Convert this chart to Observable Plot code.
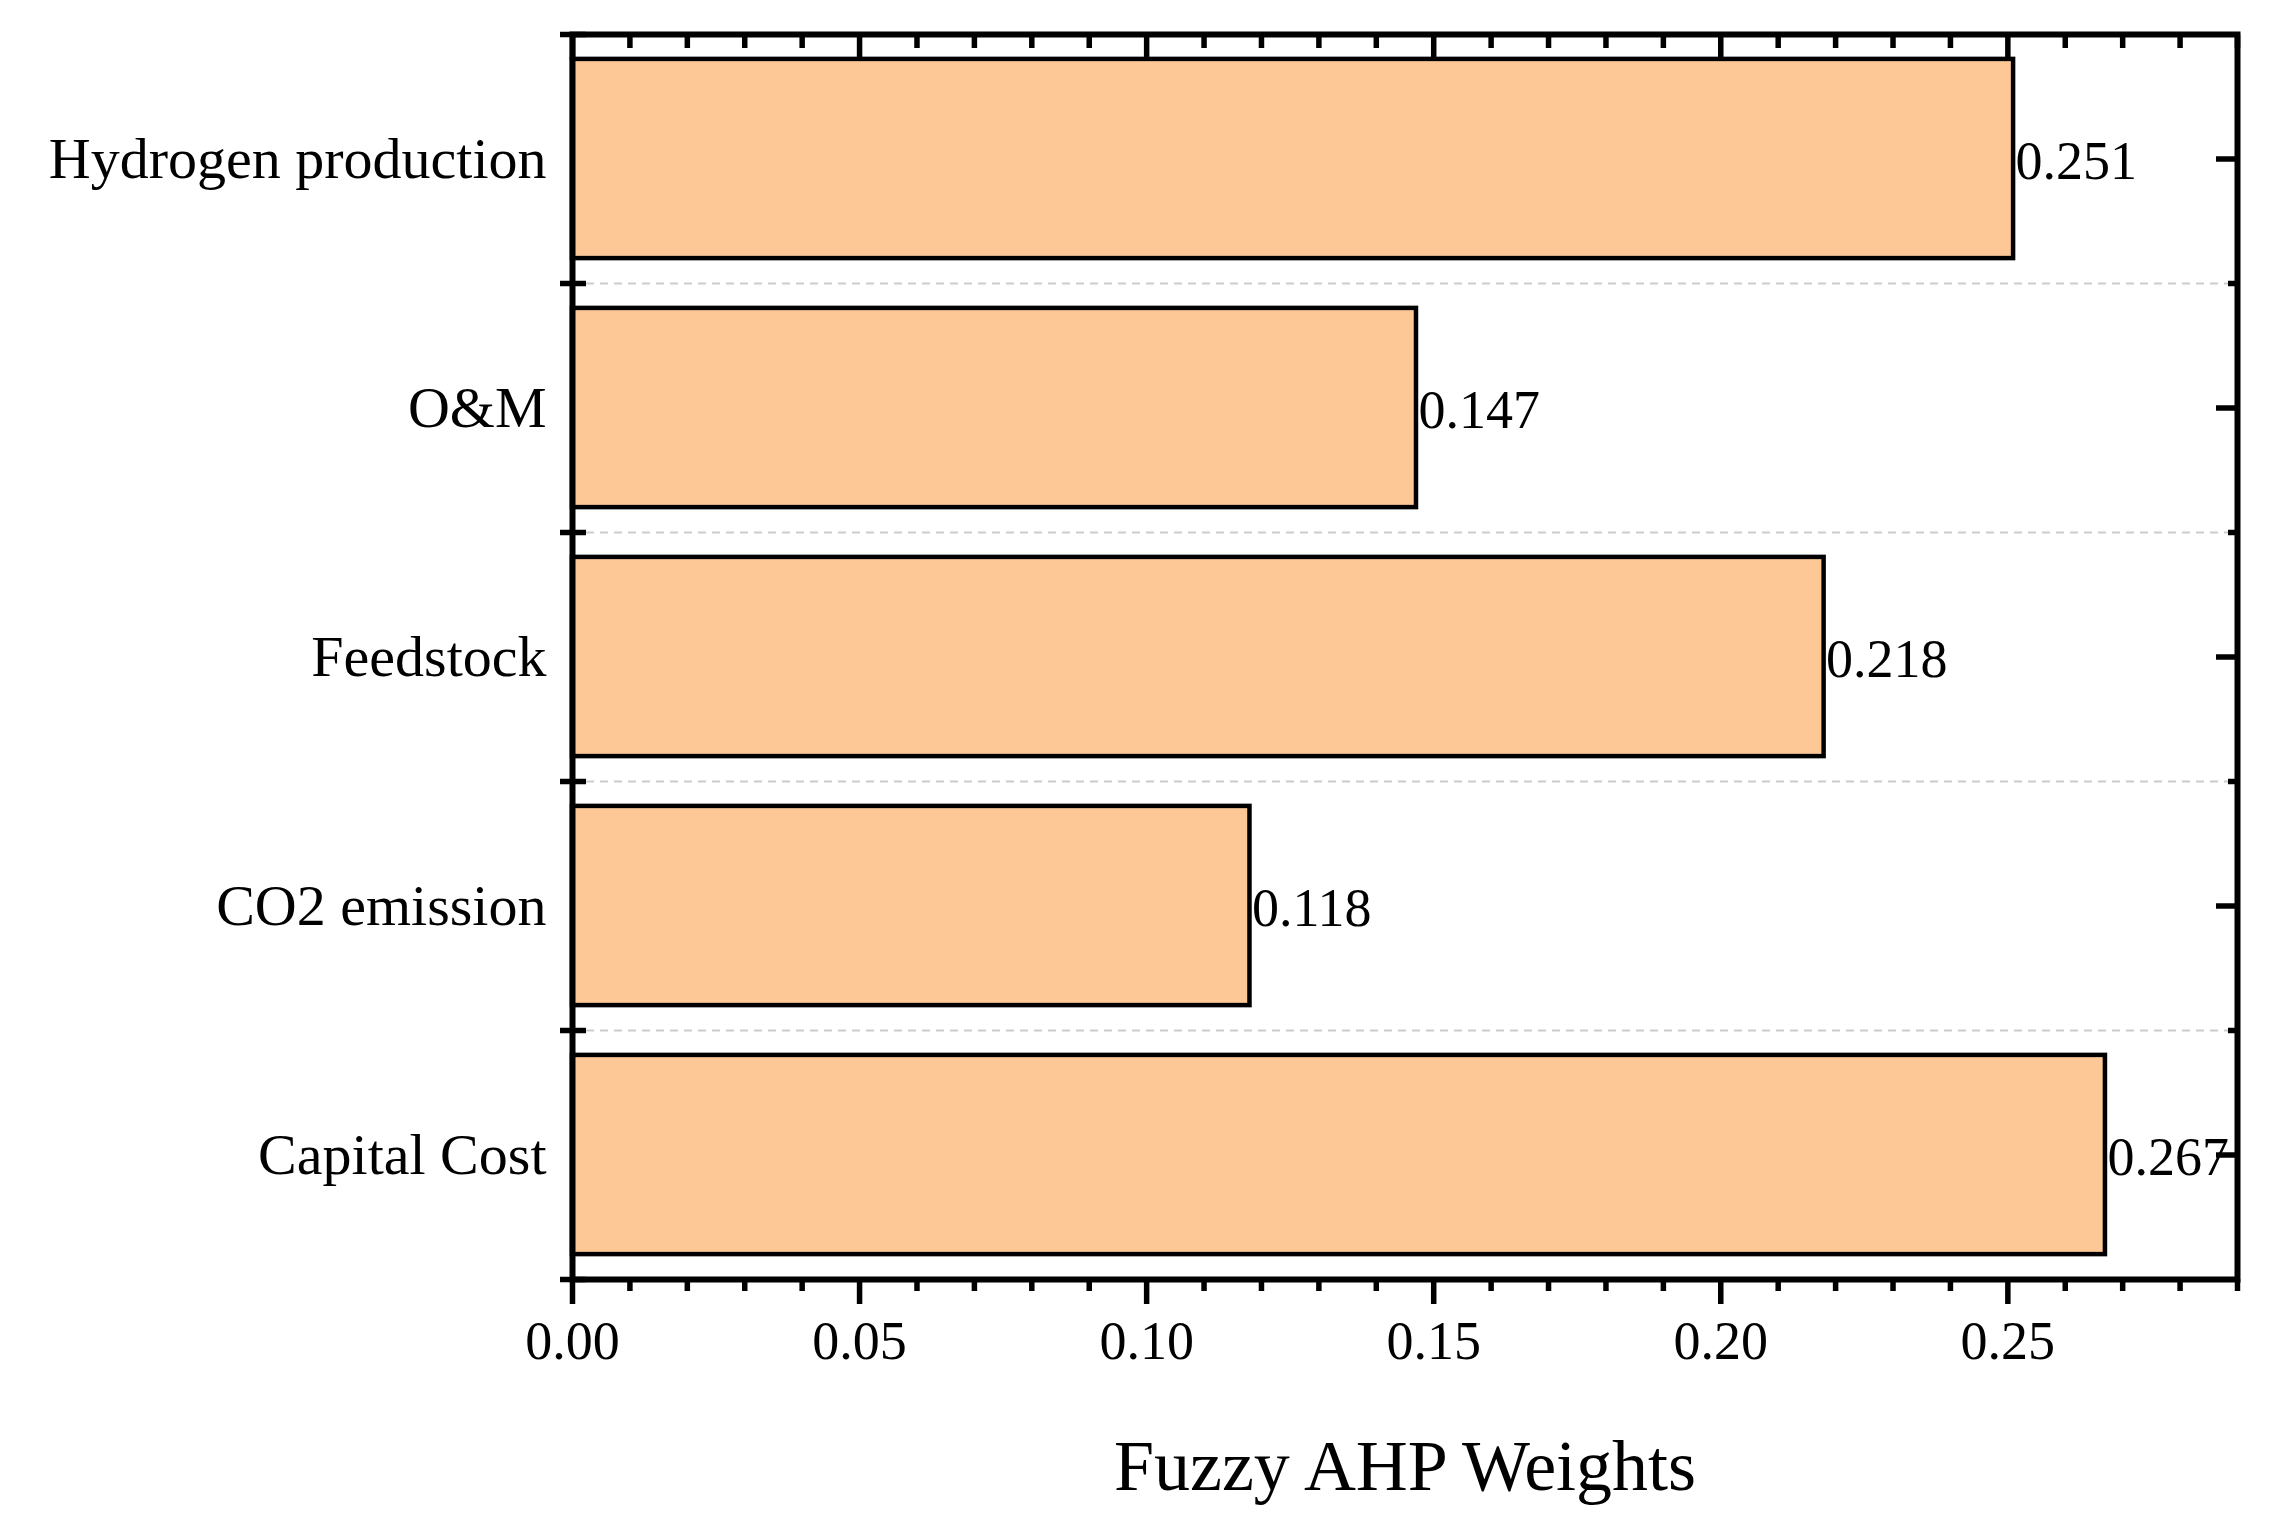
<!DOCTYPE html>
<html>
<head>
<meta charset="utf-8">
<script src="https://cdn.jsdelivr.net/npm/d3@7"></script>
<script src="https://cdn.jsdelivr.net/npm/@observablehq/plot@0.6"></script>
<style>
  html, body { margin: 0; padding: 0; background: #fff; }
  #chart svg { display: block; }
</style>
</head>
<body>
<div id="chart"></div>
<script>
// Categories listed from bottom to top
const categories = ["Capital Cost", "CO2 emission", "Feedstock", "O&M", "Hydrogen production"];
const weights = [0.267, 0.118, 0.218, 0.147, 0.251];
const xMajorTicks = [0, 0.05, 0.10, 0.15, 0.20, 0.25];
const xMinorTicks = [0.01, 0.02, 0.03, 0.04, 0.06, 0.07, 0.08, 0.09, 0.11, 0.12, 0.13, 0.14,
                     0.16, 0.17, 0.18, 0.19, 0.21, 0.22, 0.23, 0.24, 0.26, 0.27, 0.28, 0.29];
const xLabel = "Fuzzy AHP Weights";

const data = categories.map((c, i) => ({category: c, value: weights[i], i}));
const boundaries = d3.range(0, categories.length + 1);
const innerBoundaries = boundaries.slice(1, -1);
const centers = categories.map((c, i) => i + 0.5);

const fontFamily = "'Liberation Serif', serif";
const blank = () => "";

const chart = Plot.plot({
  width: 2270,
  height: 1528,
  marginLeft: 572,
  marginRight: 33,
  marginTop: 34,
  marginBottom: 249,
  style: {fontFamily, background: "#fff", color: "#000"},
  x: {domain: [0, 0.29]},
  y: {domain: [0, categories.length]},
  marks: [
    Plot.ruleY(innerBoundaries, {y: d => d, stroke: "#cccccc", strokeWidth: 2.2, strokeDasharray: "8,6"}),
    Plot.rect(data, {
      x1: () => 0, x2: "value",
      y1: d => d.i + 0.1, y2: d => d.i + 0.9,
      fill: "#fec896", stroke: "#000", strokeWidth: 4.5
    }),
    Plot.text(data, {
      x: "value", y: d => d.i + 0.5,
      text: d => d.value.toFixed(3),
      textAnchor: "start", dx: 2, dy: 3, fontSize: 54, fill: "#000"
    }),
    // bottom axis
    Plot.axisX(xMajorTicks, {anchor: "bottom", tickSize: 25, tickPadding: 16, strokeWidth: 5.5,
      tickFormat: d3.format(".2f"), fontSize: 54, label: null}),
    Plot.axisX(xMinorTicks, {anchor: "bottom", tickSize: 12, strokeWidth: 5.5, tickFormat: blank, label: null}),
    // top axis (inward ticks)
    Plot.axisX(xMajorTicks, {anchor: "top", tickSize: -25, strokeWidth: 5.5, tickFormat: blank, label: null}),
    Plot.axisX(xMinorTicks, {anchor: "top", tickSize: -13, strokeWidth: 5.5, tickFormat: blank, label: null}),
    // left axis: boundary ticks crossing the spine, labels at centers
    Plot.axisY(boundaries, {anchor: "left", tickSize: 12, strokeWidth: 5.5, tickFormat: blank, label: null}),
    Plot.axisY(boundaries, {anchor: "left", tickSize: -14, strokeWidth: 5.5, tickFormat: blank, label: null}),
    Plot.axisY(centers, {anchor: "left", tickSize: 0, tickPadding: 26, fontSize: 58,
      tickFormat: d => categories[Math.floor(d)], label: null, ariaLabel: "category-labels"}),
    // right axis (inward ticks)
    Plot.axisY(centers, {anchor: "right", tickSize: -22, strokeWidth: 5.5, tickFormat: blank, label: null}),
    Plot.axisY(innerBoundaries, {anchor: "right", tickSize: -10, strokeWidth: 5.5, tickFormat: blank, label: null}),
    Plot.frame({stroke: "#000", strokeWidth: 6}),
    Plot.text([xLabel], {frameAnchor: "bottom", dy: 210, fontSize: 72, fill: "#000", ariaLabel: "x-title"})
  ]
});
// letter-spacing to approximate the wider original serif face
d3.select(chart).selectAll('g[aria-label="category-labels"] text')
  .style("letter-spacing", "2.4px");
d3.select(chart).selectAll('g[aria-label="x-title"] text')
  .style("letter-spacing", "2.6px");
document.getElementById("chart").appendChild(chart);
</script>
</body>
</html>
